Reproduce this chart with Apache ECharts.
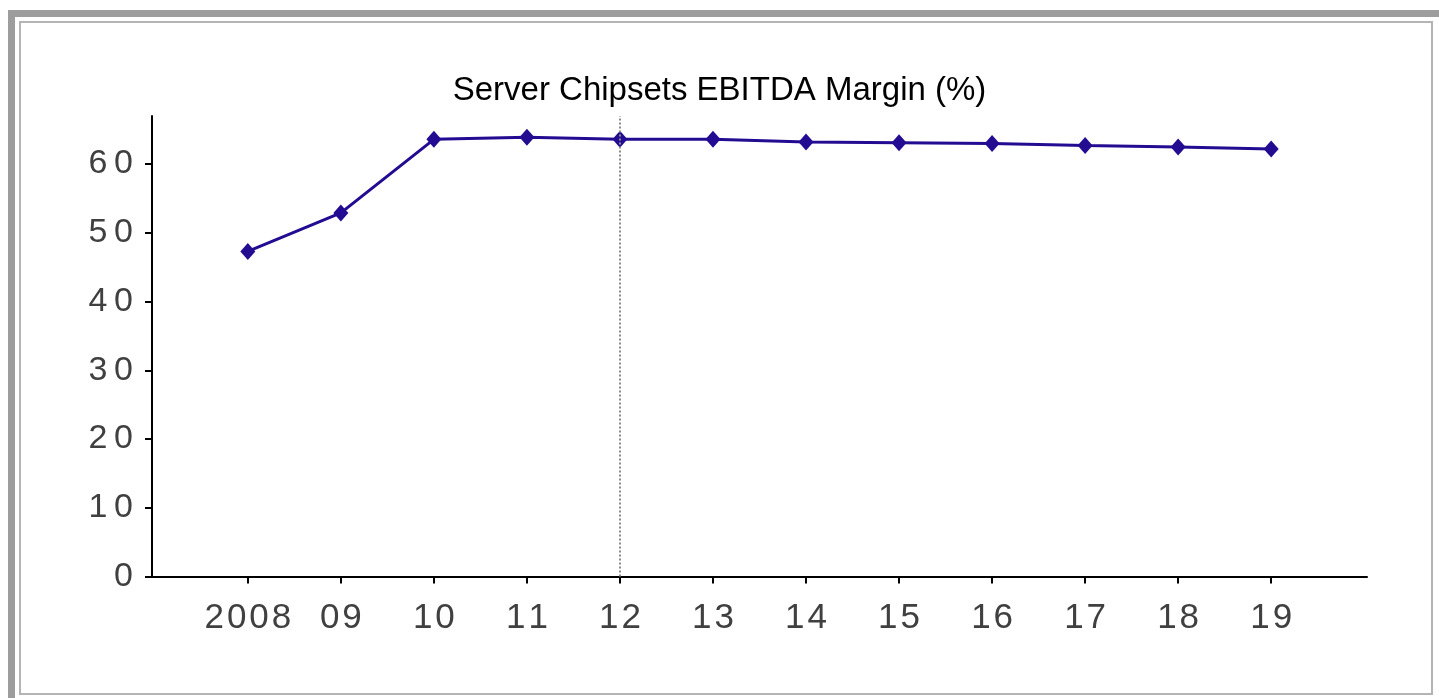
<!DOCTYPE html>
<html>
<head>
<meta charset="utf-8">
<title>Server Chipsets EBITDA Margin (%)</title>
<script src="https://cdn.jsdelivr.net/npm/echarts@6/dist/echarts.min.js"></script>
<style>
  html, body { margin: 0; padding: 0; background: #ffffff; overflow: hidden; }
  #wrap { position: relative; width: 1439px; height: 698px; }
  #chart { position: absolute; left: 0; top: 0; width: 1439px; height: 698px; }
  .frame-outer { position: absolute; left: 8px; top: 10px; width: 1440px; height: 700px;
                 border: 7px solid #9d9d9d; box-sizing: border-box; pointer-events: none; }
  .frame-inner { position: absolute; left: 19px; top: 21px; width: 1414px; height: 674px;
                 border: 2px solid #b4b4b4; box-sizing: border-box; pointer-events: none; }
</style>
</head>
<body>
<div id="wrap">
  <div id="chart"></div>
  <div class="frame-outer"></div>
  <div class="frame-inner"></div>
</div>
<script>
// Fiscal years on the horizontal axis and the margin for each year (%)
const years = ['2008', '09', '10', '11', '12', '13', '14', '15', '16', '17', '18', '19'];
const margin = [47.3, 52.9, 63.6, 63.9, 63.6, 63.6, 63.2, 63.1, 63.0, 62.7, 62.5, 62.2];
const yTicks = [0, 10, 20, 30, 40, 50, 60];
// First projected year, marked with a dotted divider
const dividerYear = '12';

const idx = years.map((_, i) => i);
// Tick labels are drawn with a little extra tracking between digits
const spaced = (s, gap) => s.split('').join(gap);

const chart = echarts.init(document.getElementById('chart'), null, { renderer: 'canvas' });
chart.setOption({
  animation: false,
  backgroundColor: 'transparent',
  title: {
    text: 'Server Chipsets EBITDA Margin (%)',
    left: 'center',
    top: 69,
    textStyle: { fontFamily: 'Liberation Sans', fontSize: 33, fontWeight: 'normal', color: '#000000' }
  },
  grid: { left: 152, right: 72, top: 116, bottom: 121.5, containLabel: false },
  xAxis: {
    type: 'value',
    min: -1.03,
    max: years.length - 1 + 1.03,
    splitLine: { show: false },
    axisLine: { show: true, onZero: false, lineStyle: { color: '#000000', width: 2 } },
    axisTick: { show: true, inside: false, length: 7, customValues: idx, lineStyle: { color: '#000000', width: 2 } },
    axisLabel: {
      customValues: idx,
      formatter: v => spaced(years[Math.round(v)] || '', '\u200A'),
      margin: 24,
      fontFamily: 'Liberation Sans', fontSize: 35, color: '#404040'
    }
  },
  yAxis: {
    type: 'value',
    min: 0,
    max: 67,
    splitLine: { show: false },
    axisLine: { show: true, onZero: false, lineStyle: { color: '#000000', width: 2 } },
    axisTick: { show: true, length: 7, customValues: yTicks, lineStyle: { color: '#000000', width: 2 } },
    axisLabel: {
      customValues: yTicks,
      formatter: v => spaced(String(v), '\u2009'),
      margin: 19,
      padding: [4, 0, 0, 0],
      fontFamily: 'Liberation Sans', fontSize: 34, color: '#404040'
    }
  },
  series: [{
    type: 'line',
    data: margin.map((v, i) => [i, v]),
    symbol: 'diamond',
    symbolSize: [15, 17],
    itemStyle: { color: '#230c91' },
    lineStyle: { color: '#230c91', width: 3 },
    markLine: {
      silent: true,
      symbol: 'none',
      label: { show: false },
      lineStyle: { color: '#8c8c8c', width: 2, type: [2, 2] },
      data: [{ xAxis: years.indexOf(dividerYear) }]
    },
    z: 3
  }]
});
</script>
</body>
</html>
